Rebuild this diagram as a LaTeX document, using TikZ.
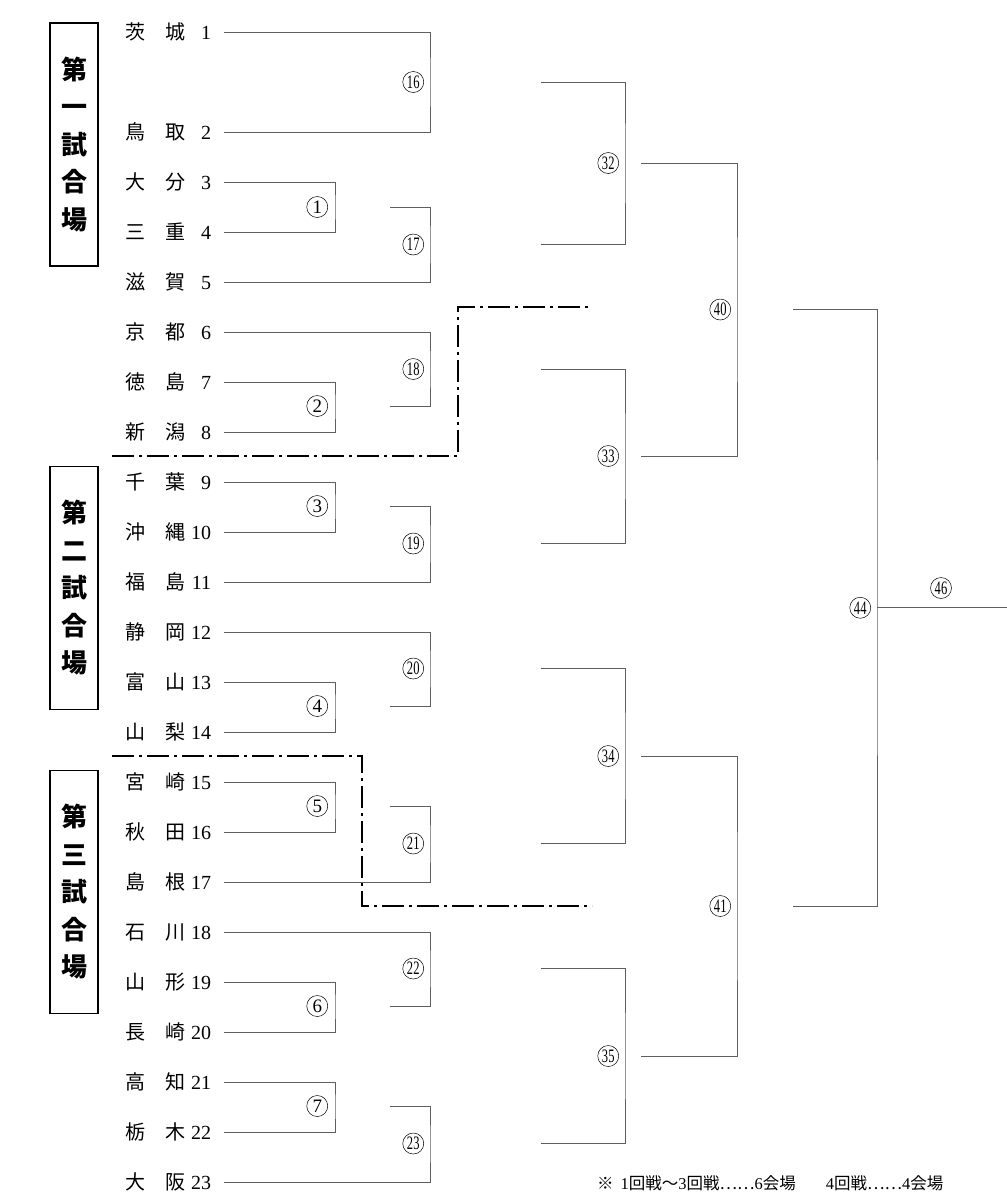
\documentclass[tikz,border=0pt]{standalone}
\usepackage{fontspec}
\usepackage{graphicx}
\setmainfont{Liberation Serif}
\newfontfamily\jp{Noto Sans CJK JP}
\usetikzlibrary{positioning}
\definecolor{linegray}{HTML}{5F5F5F}
% narrow two-digit numbers inside the circles
\newcommand{\dd}[1]{\scalebox{0.66}[1]{#1}}

\begin{document}
\begin{tikzpicture}[
    x=1pt, y=-1pt,
    team/.style={inner sep=0pt, anchor=base west, font=\fontsize{20}{20}\selectfont},
    venue/.style={
        draw, line width=1.5pt, inner sep=0pt,
        minimum width=48pt, minimum height=243pt, align=center,
        font=\jp\bfseries\fontsize{26}{37.5}\selectfont,
    },
    circ/.style={circle, draw, line width=0.5pt, inner sep=0pt,
        minimum size=21pt, font=\fontsize{19}{19}\selectfont},
    bline/.style={draw=linegray, line width=1pt},
    divider/.style={line width=1.8pt, dash pattern=on 22pt off 5pt on 3pt off 5pt},
    note/.style={inner sep=0pt, anchor=base west, font=\fontsize{16.5}{16.5}\selectfont},
]
\useasboundingbox (0,0) rectangle (1007,1200);

% Venue boxes on the left
\node[venue] (venue1) at (74,144.5) {第\\一\\試\\合\\場};
\node[venue] (venue2) at (74,588) {第\\二\\試\\合\\場};
\node[venue] (venue3) at (74,892) {第\\三\\試\\合\\場};

% Teams: name, number, and start of each line
\foreach \n/\a/\b in {1/茨/城, 2/鳥/取, 3/大/分, 4/三/重, 5/滋/賀, 6/京/都,
    7/徳/島, 8/新/潟, 9/千/葉, 10/沖/縄, 11/福/島, 12/静/岡, 13/富/山,
    14/山/梨, 15/宮/崎, 16/秋/田, 17/島/根, 18/石/川, 19/山/形, 20/長/崎,
    21/高/知, 22/栃/木, 23/大/阪} {
    \pgfmathsetmacro{\ty}{ifthenelse(\n==1,32,32+50*\n)}
    \node[team] (t\n) at (125,\ty+7)
        {\makebox[40pt][l]{\jp\a}\makebox[20pt][l]{\jp\b}\makebox[26pt][r]{\n}};
    \coordinate (s\n) at (224,\ty);
}

% Round 1
\foreach \m/\a/\b/\y in {1/s3/s4/207, 2/s7/s8/406, 3/s9/s10/506, 4/s13/s14/706,
    5/s15/s16/806, 6/s19/s20/1006, 7/s21/s22/1106} {
    \coordinate (m\m) at (335,\y);
    \draw[bline] (\a) -| (m\m) |- (\b);
    \node[circ, left=7pt of m\m] (c\m) {\m};
    \coordinate (w\m) at (390,\y);
}

% Round 2
\foreach \m/\a/\b/\y in {16/s1/s2/82, 17/w1/s5/244.5, 18/s6/w2/369,
    19/w3/s11/543.5, 20/s12/w4/668.5, 21/w5/s17/843.5, 22/s18/w6/968.5,
    23/w7/s23/1143.5} {
    \coordinate (m\m) at (430,\y);
    \draw[bline] (\a) -| (m\m) |- (\b);
    \node[circ, left=6pt of m\m] (c\m) {\dd{\m}};
    \coordinate (w\m) at (541,\y);
}

% Round 3
\foreach \m/\a/\b/\y in {32/w16/w17/163, 33/w18/w19/456, 34/w20/w21/756,
    35/w22/w23/1056} {
    \coordinate (m\m) at (625,\y);
    \draw[bline] (\a) -| (m\m) |- (\b);
    \node[circ, left=6pt of m\m] (c\m) {\dd{\m}};
    \coordinate (w\m) at (641,\y);
}

% Round 4
\foreach \m/\a/\b/\y in {40/w32/w33/309.5, 41/w34/w35/906} {
    \coordinate (m\m) at (737,\y);
    \draw[bline] (\a) -| (m\m) |- (\b);
    \node[circ, left=6pt of m\m] (c\m) {\dd{\m}};
    \coordinate (w\m) at (793,\y);
}

% Semi-final and final
\coordinate (m44) at (877,607.75);
\draw[bline] (w40) -| (m44) |- (w41);
\node[circ, left=6pt of m44] (c44) {\dd{44}};
\coordinate (fin) at (1007,607.75);
\draw[bline] (m44) -- (fin);
\node[circ] (c46) at (941,588) {\dd{46}};

% Venue dividers
\coordinate (d1a) at (112,456);
\coordinate (d1b) at (458,307);
\coordinate (d1c) at (592,307);
\draw[divider] (d1a) -| (d1b) -- (d1c);
\coordinate (d2a) at (112,756);
\coordinate (d2b) at (362,906);
\coordinate (d2c) at (592,906);
\draw[divider] (d2a) -| (d2b) -- (d2c);

% Footnote
\node[note] (footnote) at (597,1189)
    {{\jp ※}\hspace{7pt}1{\jp 回戦〜}3{\jp 回戦……}6{\jp 会場}\hspace{30pt}4{\jp 回戦……}4{\jp 会場}};

\end{tikzpicture}
\end{document}
